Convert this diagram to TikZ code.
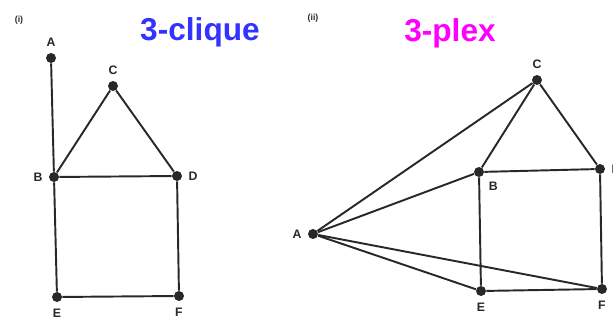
\documentclass[tikz,border=0pt]{standalone}
\usepackage{fontspec}
\setmainfont{Liberation Sans}
\usepackage{xcolor}
\usetikzlibrary{positioning}

\definecolor{cliqueblue}{RGB}{51,51,255}
\definecolor{plexmagenta}{RGB}{255,0,255}
\definecolor{edgegray}{RGB}{40,40,40}

\tikzset{
    vert/.style={circle, fill=edgegray, inner sep=0pt, minimum size=0.2cm,
        label distance=0.02cm},
    vlabel/.style={font=\fontsize{7}{8}\selectfont\bfseries, text=edgegray},
    edge/.style={draw=edgegray, line width=1.1pt},
    heading/.style={font=\fontsize{18}{20}\selectfont\bfseries},
    tag/.style={font=\fontsize{5}{6}\selectfont\bfseries, text=edgegray}
}

\begin{document}
\begin{tikzpicture}[x=0.02cm, y=-0.02cm]
    \useasboundingbox (0,0) rectangle (613,320);
    % Titles
    \node[tag] (tagi) at (19,20) {(i)};
    \node[heading, text=cliqueblue] (clique) at (200,32) {3-clique};
    \node[tag] (tagii) at (313,18) {(ii)};
    \node[heading, text=plexmagenta] (plex) at (450,33) {3-plex};

    % Graph (i)
    \node[vert, label={[vlabel]above:A}] (A1) at (51,58) {};
    \node[vert, label={[vlabel]above:C}] (C1) at (113,86) {};
    \node[vert, label={[vlabel]left:B}] (B1) at (54,177) {};
    \node[vert, label={[vlabel]right:D}] (D1) at (177,176) {};
    \node[vert, label={[vlabel]below:E}] (E1) at (57,297) {};
    \node[vert, label={[vlabel]below:F}] (F1) at (179,296) {};
    \draw[edge] (A1) -- (B1) -- (C1) -- (D1) -- (B1);
    \draw[edge] (B1) -- (E1) -- (F1) -- (D1);

    % Graph (ii)
    \node[vert, label={[vlabel]above:C}] (C2) at (537,80) {};
    \node[vert, label={[vlabel]below right:B}] (B2) at (479,172) {};
    \node[vert, label={[vlabel]right:D}] (D2) at (600,169) {};
    \node[vert, label={[vlabel]left:A}] (A2) at (313,234) {};
    \node[vert, label={[vlabel]below:E}] (E2) at (481,291) {};
    \node[vert, label={[vlabel]below:F}] (F2) at (602,289) {};
    \draw[edge] (A2) -- (C2);
    \draw[edge] (A2) -- (B2);
    \draw[edge] (A2) -- (E2);
    \draw[edge] (A2) -- (F2);
    \draw[edge] (B2) -- (C2) -- (D2) -- (B2);
    \draw[edge] (B2) -- (E2) -- (F2) -- (D2);
\end{tikzpicture}
\end{document}
